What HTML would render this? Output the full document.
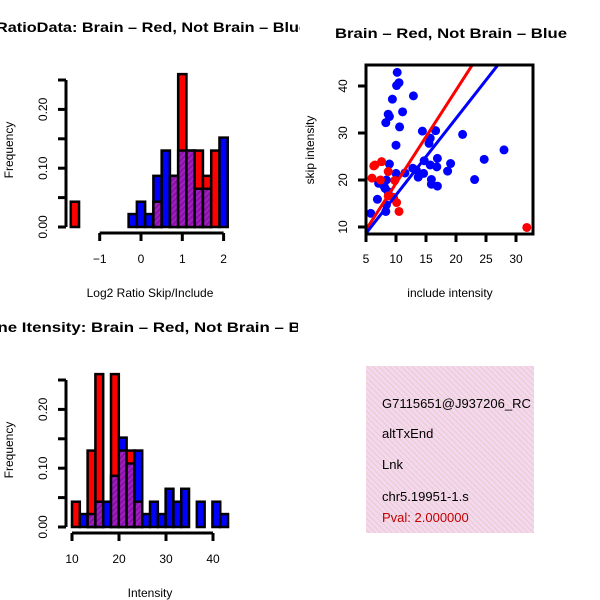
<!DOCTYPE html>
<html><head><meta charset="utf-8"><style>
html,body{margin:0;padding:0;background:#fff;}
svg{display:block;font-family:"Liberation Sans",sans-serif;}
</style></head><body>
<svg id="s" width="600" height="600" xmlns="http://www.w3.org/2000/svg">
<defs>
<pattern id="hatch" width="4" height="4" patternUnits="userSpaceOnUse" patternTransform="rotate(45)">
<rect width="4" height="4" fill="#a020c0"/><rect width="2" height="4" fill="#8a10a8"/></pattern>
<pattern id="pinkh" width="4" height="4" patternUnits="userSpaceOnUse" patternTransform="rotate(-45)">
<rect width="4" height="4" fill="#f7d6f0"/><rect width="1" height="4" fill="#e0d0c8"/></pattern>
<clipPath id="cTL"><rect x="0" y="0" width="300" height="300"/></clipPath>
<clipPath id="cBL"><rect x="0" y="300" width="298" height="300"/></clipPath>
<clipPath id="cSc"><rect x="366" y="65" width="167" height="169"/></clipPath>
<clipPath id="cInfo"><rect x="366" y="366" width="168" height="167"/></clipPath>
</defs>
<g id="tl" clip-path="url(#cTL)"></g>
<g id="sc"></g>
<g id="bl" clip-path="url(#cBL)"></g>
<g clip-path="url(#cInfo)">
<rect x="366" y="366" width="168" height="167" fill="url(#pinkh)"/>
<text x="382" y="408" font-size="13">G7115651@J937206_RC</text>
<text x="382" y="438" font-size="13">altTxEnd</text>
<text x="382" y="469" font-size="13">Lnk</text>
<text x="382" y="501" font-size="13">chr5.19951-1.s</text>
<text x="382" y="522" font-size="13" fill="#c00000">Pval: 2.000000</text>
</g>
</svg>
<script>
// Ratio histogram data
const ratioBinStart = -1.7, ratioBinWidth = 0.2;
const ratioRed  = [0.043,0,0,0,0,0,0,0,0,0,0.043,0,0.087,0.26,0.13,0.13,0.087,0.13,0];
const ratioBlue = [0,0,0,0,0,0,0,0.022,0.043,0.022,0.087,0.13,0.087,0.13,0.13,0.065,0.065,0,0.152];
const ratioXTicks = [-1,0,1,2];
const freqTicks = ["0.00","0.10","0.20"];
const freqTickVals = [0,0.05,0.1,0.15,0.2,0.25];
// Intensity histogram data
const intBinStart = 10, intBinWidth = 1.66;
const intRed  = [0.043,0,0.13,0.26,0,0.26,0.13,0.13,0.043,0,0,0,0,0,0,0,0,0,0,0];
const intBlue = [0,0.022,0.022,0.043,0.043,0.087,0.152,0.108,0.13,0.022,0.043,0.022,0.065,0.043,0.065,0,0.043,0,0.043,0.022];
const intXTicks = [10,20,30,40];
// Scatter data
const blueX = [10.2,10.5,10.1,12.9,9.4,11.1,8.7,8.9,8.3,10.6,14.4,16.6,21.1,15.7,15.5,10,28,24.7,16.9,14.7,19.1,15.7,8.9,16.8,12.8,13.4,18.6,10,11.5,14.6,13.7,15.9,23.1,8.4,7.1,8,15.9,16.9,8.2,8.7,6.9,8.4,8.3,5.8];
const blueY = [42.9,40.7,40.1,37.9,37.2,34.5,34,33.5,32.2,31.3,30.4,30.5,29.7,28.9,27.8,27.4,26.4,24.4,24.6,24.1,23.5,23.2,23.4,22.8,22.5,22.1,21.9,21.4,21.5,21.4,20.6,20.1,20.1,20,19.3,18.7,19.1,18.7,18.2,17.5,15.9,14.7,13.3,12.9];
const redX = [6.5,6.3,7.6,6,8.7,9.8,8.7,10.1,10.5,7.4,31.8,9.6];
const redY = [23.2,23,23.9,20.4,21.8,19.9,16.6,15.2,13.3,20,9.9,16.3];
const redFit = [-0.5, 1.98];  // intercept, slope
const blueFit = [0.5, 1.63];
const scXTicks = [5,10,15,20,25,30];
const scYTicks = [10,20,30,40];

const NS="http://www.w3.org/2000/svg";
function mk(parent, tag, attrs, txt){const e=document.createElementNS(NS,tag);for(const k in attrs)e.setAttribute(k,attrs[k]);if(txt!==undefined)e.textContent=txt;parent.appendChild(e);return e;}

function histPanel(g, y0, binStart, binW, red, blue, xTicks, xFn, title, titleX, titleLen, xlab, prefix){
  const yFn = v => y0 + 227 - v/0.05*29.4;
  const base = y0+227;
  const n = Math.max(red.length, blue.length);
  for(let i=0;i<n;i++){
    const r=red[i]||0, b=blue[i]||0;
    if(r===0&&b===0) continue;
    const x1=xFn(binStart+i*binW), x2=xFn(binStart+(i+1)*binW);
    const mx=Math.max(r,b), mn=Math.min(r,b);
    const top=mk(g,'rect',{x:x1,y:yFn(mx),width:x2-x1,height:base-yFn(mx),fill:r>b?'#ff0000':'#0000ff',stroke:'#000','stroke-width':2.5});
    
    
    if(mn>0){
      const p=mk(g,'rect',{x:x1,y:yFn(mn),width:x2-x1,height:base-yFn(mn),fill:'url(#hatch)',stroke:'#000','stroke-width':2.5});
      
      
    }
  }
  const ya=mk(g,'g',{});
  
  
  mk(ya,'line',{x1:66,x2:66,y1:yFn(0),y2:yFn(0.25),stroke:'#000','stroke-width':3});
  freqTickVals.forEach(v=>mk(ya,'line',{x1:58,x2:66,y1:yFn(v),y2:yFn(v),stroke:'#000','stroke-width':3}));
  freqTicks.forEach(t=>{const yy=yFn(parseFloat(t));mk(ya,'text',{x:0,y:0,'font-size':12,'text-anchor':'middle',transform:`translate(47,${yy}) rotate(-90)`},t);});
  const xa=mk(g,'g',{});
  
  
  mk(xa,'line',{x1:xFn(xTicks[0]),x2:xFn(xTicks[xTicks.length-1]),y1:y0+233,y2:y0+233,stroke:'#000','stroke-width':3});
  xTicks.forEach(t=>{mk(xa,'line',{x1:xFn(t),x2:xFn(t),y1:y0+233,y2:y0+241,stroke:'#000','stroke-width':3});
    mk(xa,'text',{x:xFn(t),y:y0+263,'font-size':12,'text-anchor':'middle'},t<0?'\u2212'+(-t):String(t));});
  const tt=mk(g,'text',{x:titleX,y:y0+32,'font-size':14,'font-weight':'bold',textLength:titleLen,lengthAdjust:'spacingAndGlyphs'},title);
  
  
  const xl=mk(g,'text',{x:150,y:y0+297,'font-size':12,'text-anchor':'middle'},xlab);
  
  
  const yl=mk(g,'text',{x:0,y:0,'font-size':12,'text-anchor':'middle',transform:`translate(13,${y0+150}) rotate(-90)`},'Frequency');
  
  
}
histPanel(document.getElementById('tl'),0,ratioBinStart,ratioBinWidth,ratioRed,ratioBlue,ratioXTicks,v=>141+v*41.3,
  'RatioData: Brain \u2013 Red, Not Brain \u2013 Blue',-4,312,'Log2 Ratio Skip/Include','ratio');
histPanel(document.getElementById('bl'),300,intBinStart,intBinWidth,intRed,intBlue,intXTicks,v=>72+(v-10)*4.7,
  'Gene Itensity: Brain \u2013 Red, Not Brain \u2013 Blue',-25,350,'Intensity','intensity');

(function(){
  const g=document.getElementById('sc');
  const xS=v=>366+(v-5)*6, yS=v=>227-(v-10)*4.7;
  const pts=mk(g,'g',{'clip-path':'url(#cSc)'});
  function line(fit,col,name){const xa=4,xb=34;
    const l=mk(pts,'line',{x1:xS(xa),y1:yS(fit[0]+fit[1]*xa),x2:xS(xb),y2:yS(fit[0]+fit[1]*xb),stroke:col,'stroke-width':3});
    
    }
  blueX.forEach((x,i)=>{const c=mk(pts,'circle',{cx:xS(x),cy:yS(blueY[i]),r:4.5,fill:'#0000ff'});
    
    });
  redX.forEach((x,i)=>{const c=mk(pts,'circle',{cx:xS(x),cy:yS(redY[i]),r:4.5,fill:'#ff0000'});
    
    });
  line(redFit,'#ff0000','brain-fit-line');
  line(blueFit,'#0000ff','not-brain-fit-line');
  const fr=mk(g,'rect',{x:366,y:65,width:167,height:169,fill:'none',stroke:'#000','stroke-width':3});
  
  
  scXTicks.forEach(t=>{mk(g,'line',{x1:xS(t),x2:xS(t),y1:234,y2:242,stroke:'#000','stroke-width':3});
    mk(g,'text',{x:xS(t),y:263,'font-size':12,'text-anchor':'middle'},String(t));});
  scYTicks.forEach(t=>{mk(g,'line',{x1:358,x2:366,y1:yS(t),y2:yS(t),stroke:'#000','stroke-width':3});
    mk(g,'text',{x:0,y:0,'font-size':12,'text-anchor':'middle',transform:`translate(347,${yS(t)}) rotate(-90)`},String(t));});
  const tt=mk(g,'text',{x:335,y:38,'font-size':14,'font-weight':'bold',textLength:232,lengthAdjust:'spacingAndGlyphs'},'Brain \u2013 Red, Not Brain \u2013 Blue');
  
  
  const xl=mk(g,'text',{x:450,y:297,'font-size':12,'text-anchor':'middle'},'include intensity');
  
  
  const yl=mk(g,'text',{x:0,y:0,'font-size':12,'text-anchor':'middle',transform:'translate(314,150) rotate(-90)'},'skip intensity');
  
  
})();
</script>
</body></html>
